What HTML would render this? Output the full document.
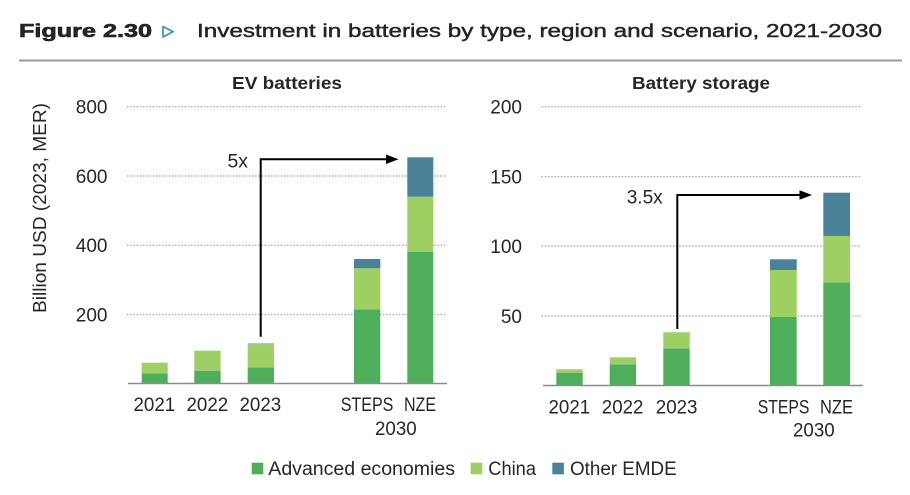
<!DOCTYPE html>
<html>
<head>
<meta charset="utf-8">
<style>
  html, body { margin:0; padding:0; background:#ffffff; }
  body { width:910px; height:495px; overflow:hidden; }
  svg { display:block; }
  text { font-family: "Liberation Sans", "DejaVu Sans", sans-serif; fill:#262626; }
</style>
</head>
<body>
<svg width="910" height="495" viewBox="0 0 910 495" xmlns="http://www.w3.org/2000/svg">
  <rect x="0" y="0" width="910" height="495" fill="#ffffff"/>

  <!-- Header -->
  <text x="19" y="37" font-size="18" font-weight="bold" fill="#1a1a1a" stroke="#1a1a1a" stroke-width="0.6" textLength="133" lengthAdjust="spacingAndGlyphs">Figure 2.30</text>
  <polygon points="163,26.5 173,31.7 163,37" fill="none" stroke="#3a9bb5" stroke-width="1.8" stroke-linejoin="round"/>
  <text x="197" y="37" font-size="18" fill="#1a1a1a" stroke="#1a1a1a" stroke-width="0.4" textLength="685" lengthAdjust="spacingAndGlyphs">Investment in batteries by type, region and scenario, 2021-2030</text>
  <line x1="19" y1="60.5" x2="902" y2="60.5" stroke="#9a9a9a" stroke-width="2"/>

  <!-- Panel titles -->
  <text x="232" y="89" font-size="17.5" font-weight="bold" textLength="110" lengthAdjust="spacingAndGlyphs">EV batteries</text>
  <text x="632" y="89" font-size="17.5" font-weight="bold" textLength="138" lengthAdjust="spacingAndGlyphs">Battery storage</text>

  <!-- Y axis title -->
  <text transform="translate(46,208) rotate(-90)" font-size="18" text-anchor="middle" textLength="210" lengthAdjust="spacingAndGlyphs">Billion USD (2023, MER)</text>

  <!-- LEFT PANEL -->
  <g stroke="#a8a8a8" stroke-width="1.4" stroke-dasharray="1.4,1.8">
    <line x1="127" y1="106.7" x2="447" y2="106.7"/>
    <line x1="127" y1="176" x2="447" y2="176"/>
    <line x1="127" y1="245.3" x2="447" y2="245.3"/>
    <line x1="127" y1="314.5" x2="447" y2="314.5"/>
  </g>
  <g font-size="19" text-anchor="end">
    <text x="107.5" y="113.5">800</text>
    <text x="107.5" y="182.8">600</text>
    <text x="107.5" y="252">400</text>
    <text x="107.5" y="321.3">200</text>
  </g>

  <!-- bars left -->
  <g>
    <rect x="141.7" y="373.3" width="26" height="10" fill="#4fae5c"/>
    <rect x="141.7" y="362.7" width="26" height="10.6" fill="#9dcf62"/>

    <rect x="194.3" y="370.7" width="26.3" height="12.6" fill="#4fae5c"/>
    <rect x="194.3" y="350.7" width="26.3" height="20" fill="#9dcf62"/>

    <rect x="247.7" y="367.3" width="26.3" height="16" fill="#4fae5c"/>
    <rect x="247.7" y="344.3" width="26.3" height="23" fill="#9dcf62"/>
    <rect x="247.7" y="343.3" width="26.3" height="1" fill="#7ab3c4"/>

    <rect x="354" y="309.3" width="26.3" height="74" fill="#4fae5c"/>
    <rect x="354" y="268.3" width="26.3" height="41" fill="#9dcf62"/>
    <rect x="354" y="259" width="26.3" height="9.3" fill="#4a8399"/>

    <rect x="407.3" y="251.7" width="26" height="131.6" fill="#4fae5c"/>
    <rect x="407.3" y="196.7" width="26" height="55" fill="#9dcf62"/>
    <rect x="407.3" y="157.3" width="26" height="39.4" fill="#4a8399"/>
  </g>
  <line x1="128" y1="383.5" x2="447" y2="383.5" stroke="#8c8c8c" stroke-width="1.6"/>

  <!-- arrow left -->
  <polyline points="260.7,336.7 260.7,159.3 388,159.3" fill="none" stroke="#000" stroke-width="2"/>
  <polygon points="386,154.5 398.5,159.3 386,164" fill="#000"/>
  <text x="227.5" y="167.7" font-size="19" textLength="20.5" lengthAdjust="spacingAndGlyphs">5x</text>

  <!-- x labels left -->
  <g font-size="19">
    <text x="133.5" y="411" textLength="41.7" lengthAdjust="spacingAndGlyphs">2021</text>
    <text x="186.5" y="411" textLength="41.7" lengthAdjust="spacingAndGlyphs">2022</text>
    <text x="239.5" y="411" textLength="41.7" lengthAdjust="spacingAndGlyphs">2023</text>
    <text x="340.7" y="411" textLength="52.7" lengthAdjust="spacingAndGlyphs">STEPS</text>
    <text x="404" y="411" textLength="32" lengthAdjust="spacingAndGlyphs">NZE</text>
    <text x="375" y="435" textLength="41.7" lengthAdjust="spacingAndGlyphs">2030</text>
  </g>

  <!-- RIGHT PANEL -->
  <g stroke="#a8a8a8" stroke-width="1.4" stroke-dasharray="1.4,1.8">
    <line x1="541.7" y1="106.7" x2="861" y2="106.7"/>
    <line x1="541.7" y1="176.7" x2="861" y2="176.7"/>
    <line x1="541.7" y1="246" x2="861" y2="246"/>
    <line x1="541.7" y1="316" x2="861" y2="316"/>
  </g>
  <g font-size="19" text-anchor="end">
    <text x="522" y="113.5">200</text>
    <text x="522" y="183.5">150</text>
    <text x="522" y="252.8">100</text>
    <text x="522" y="322.8">50</text>
  </g>

  <g>
    <rect x="556.3" y="372.7" width="26.4" height="12.6" fill="#4fae5c"/>
    <rect x="556.3" y="369.3" width="26.4" height="3.4" fill="#9dcf62"/>

    <rect x="609.7" y="364.3" width="26.3" height="21" fill="#4fae5c"/>
    <rect x="609.7" y="357.3" width="26.3" height="7" fill="#9dcf62"/>

    <rect x="663.3" y="348.3" width="26.4" height="37" fill="#4fae5c"/>
    <rect x="663.3" y="332.3" width="26.4" height="16" fill="#9dcf62"/>

    <rect x="770" y="317" width="26.7" height="68.3" fill="#4fae5c"/>
    <rect x="770" y="270" width="26.7" height="47" fill="#9dcf62"/>
    <rect x="770" y="259.3" width="26.7" height="10.7" fill="#4a8399"/>

    <rect x="823.3" y="282.3" width="26.7" height="103" fill="#4fae5c"/>
    <rect x="823.3" y="236" width="26.7" height="46.3" fill="#9dcf62"/>
    <rect x="823.3" y="192.7" width="26.7" height="43.3" fill="#4a8399"/>
  </g>
  <line x1="543" y1="385.5" x2="863" y2="385.5" stroke="#8c8c8c" stroke-width="1.6"/>

  <!-- arrow right -->
  <polyline points="677.3,329 677.3,195 801,195" fill="none" stroke="#000" stroke-width="2"/>
  <polygon points="799.5,190.3 812,195 799.5,199.7" fill="#000"/>
  <text x="626.7" y="203.3" font-size="19" textLength="36" lengthAdjust="spacingAndGlyphs">3.5x</text>

  <g font-size="19">
    <text x="548.5" y="413.3" textLength="41.7" lengthAdjust="spacingAndGlyphs">2021</text>
    <text x="601.8" y="413.3" textLength="41.7" lengthAdjust="spacingAndGlyphs">2022</text>
    <text x="655.8" y="413.3" textLength="41.7" lengthAdjust="spacingAndGlyphs">2023</text>
    <text x="757.7" y="413.3" textLength="51.7" lengthAdjust="spacingAndGlyphs">STEPS</text>
    <text x="820" y="413.3" textLength="33" lengthAdjust="spacingAndGlyphs">NZE</text>
    <text x="793" y="436.7" textLength="41.7" lengthAdjust="spacingAndGlyphs">2030</text>
  </g>

  <!-- Legend -->
  <rect x="251.7" y="462.7" width="11.6" height="11.6" fill="#4fae5c"/>
  <text x="268.3" y="475" font-size="19" textLength="186.7" lengthAdjust="spacingAndGlyphs">Advanced economies</text>
  <rect x="470.7" y="462.7" width="11.6" height="11.6" fill="#9dcf62"/>
  <text x="488.3" y="475" font-size="19" textLength="47.7" lengthAdjust="spacingAndGlyphs">China</text>
  <rect x="552.3" y="462.7" width="11.6" height="11.6" fill="#4a8399"/>
  <text x="570" y="475" font-size="19" textLength="106.7" lengthAdjust="spacingAndGlyphs">Other EMDE</text>
</svg>
</body>
</html>
